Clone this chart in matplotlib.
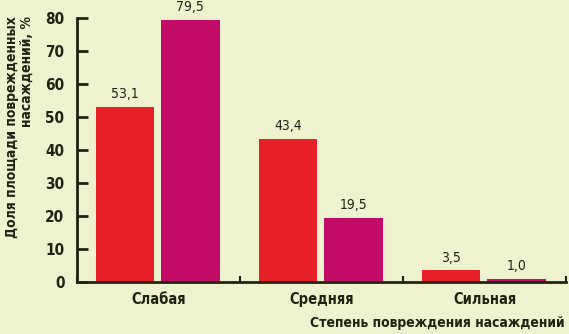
import numpy as np
import matplotlib.pyplot as plt

# -----------------------------
# Data
# -----------------------------
categories = ["Слабая", "Средняя", "Сильная"]
series_a = [53.1, 43.4, 3.5]
series_b = [79.5, 19.5, 1.0]
labels_a = ["53,1", "43,4", "3,5"]
labels_b = ["79,5", "19,5", "1,0"]

bg = "#eff2cf"
red = "#e8202a"
magenta = "#c30c68"
ink = "#222211"

plt.rcParams['font.family'] = ['DejaVu Sans']
bold = dict(fontweight='bold', fontstretch='condensed', color=ink)

fig = plt.figure(figsize=(5.69, 3.34), dpi=100, facecolor=bg)
ax = fig.add_axes([77 / 569, 1 - 282 / 334, (566 - 77) / 569, (282 - 18) / 334])
ax.set_facecolor(bg)

x = np.arange(len(categories))
w = 0.36
bars_a = ax.bar(x - 0.205, series_a, w, color=red)
bars_b = ax.bar(x + 0.195, series_b, w, color=magenta)

# value labels above bars
for bars, labels in [(bars_a, labels_a), (bars_b, labels_b)]:
    for b, t in zip(bars, labels):
        ax.text(b.get_x() + b.get_width() / 2, b.get_height() + 1.6, t,
                ha='center', va='bottom', fontsize=10, color=ink,
                fontstretch='condensed', clip_on=False)

ax.set_xlim(-0.5, 2.5)
ax.set_ylim(0, 80)
ax.set_yticks(range(0, 81, 10))
ax.set_yticklabels([str(v) for v in range(0, 81, 10)], fontsize=11, **bold)
ax.set_xticks([-0.5, 0.5, 1.5, 2.5])
ax.set_xticklabels([])
ax.set_xticks(x, minor=True)
ax.set_xticklabels(categories, minor=True, fontsize=10.5, **bold)
ax.tick_params(axis='x', which='minor', length=0, pad=7)
ax.tick_params(axis='x', which='major', direction='in', length=4, width=1.5, color=ink)
ax.tick_params(axis='y', direction='in', length=8, width=2, color=ink, pad=9)

for s in ['top', 'right']:
    ax.spines[s].set_visible(False)
for s in ['left', 'bottom']:
    ax.spines[s].set_linewidth(2)
    ax.spines[s].set_color(ink)

fig.text(0.034, 1 - 127 / 334, "Доля площади поврежденных\nнасаждений, %",
         rotation=90, ha='center', va='center', fontsize=10,
         multialignment='right', linespacing=1.1, **bold)
fig.text(1 - 4 / 569, 1 - 323 / 334, "Степень повреждения насаждений",
         ha='right', va='center', fontsize=10, **bold)

fig.savefig("out.png", dpi=100, facecolor=bg)
